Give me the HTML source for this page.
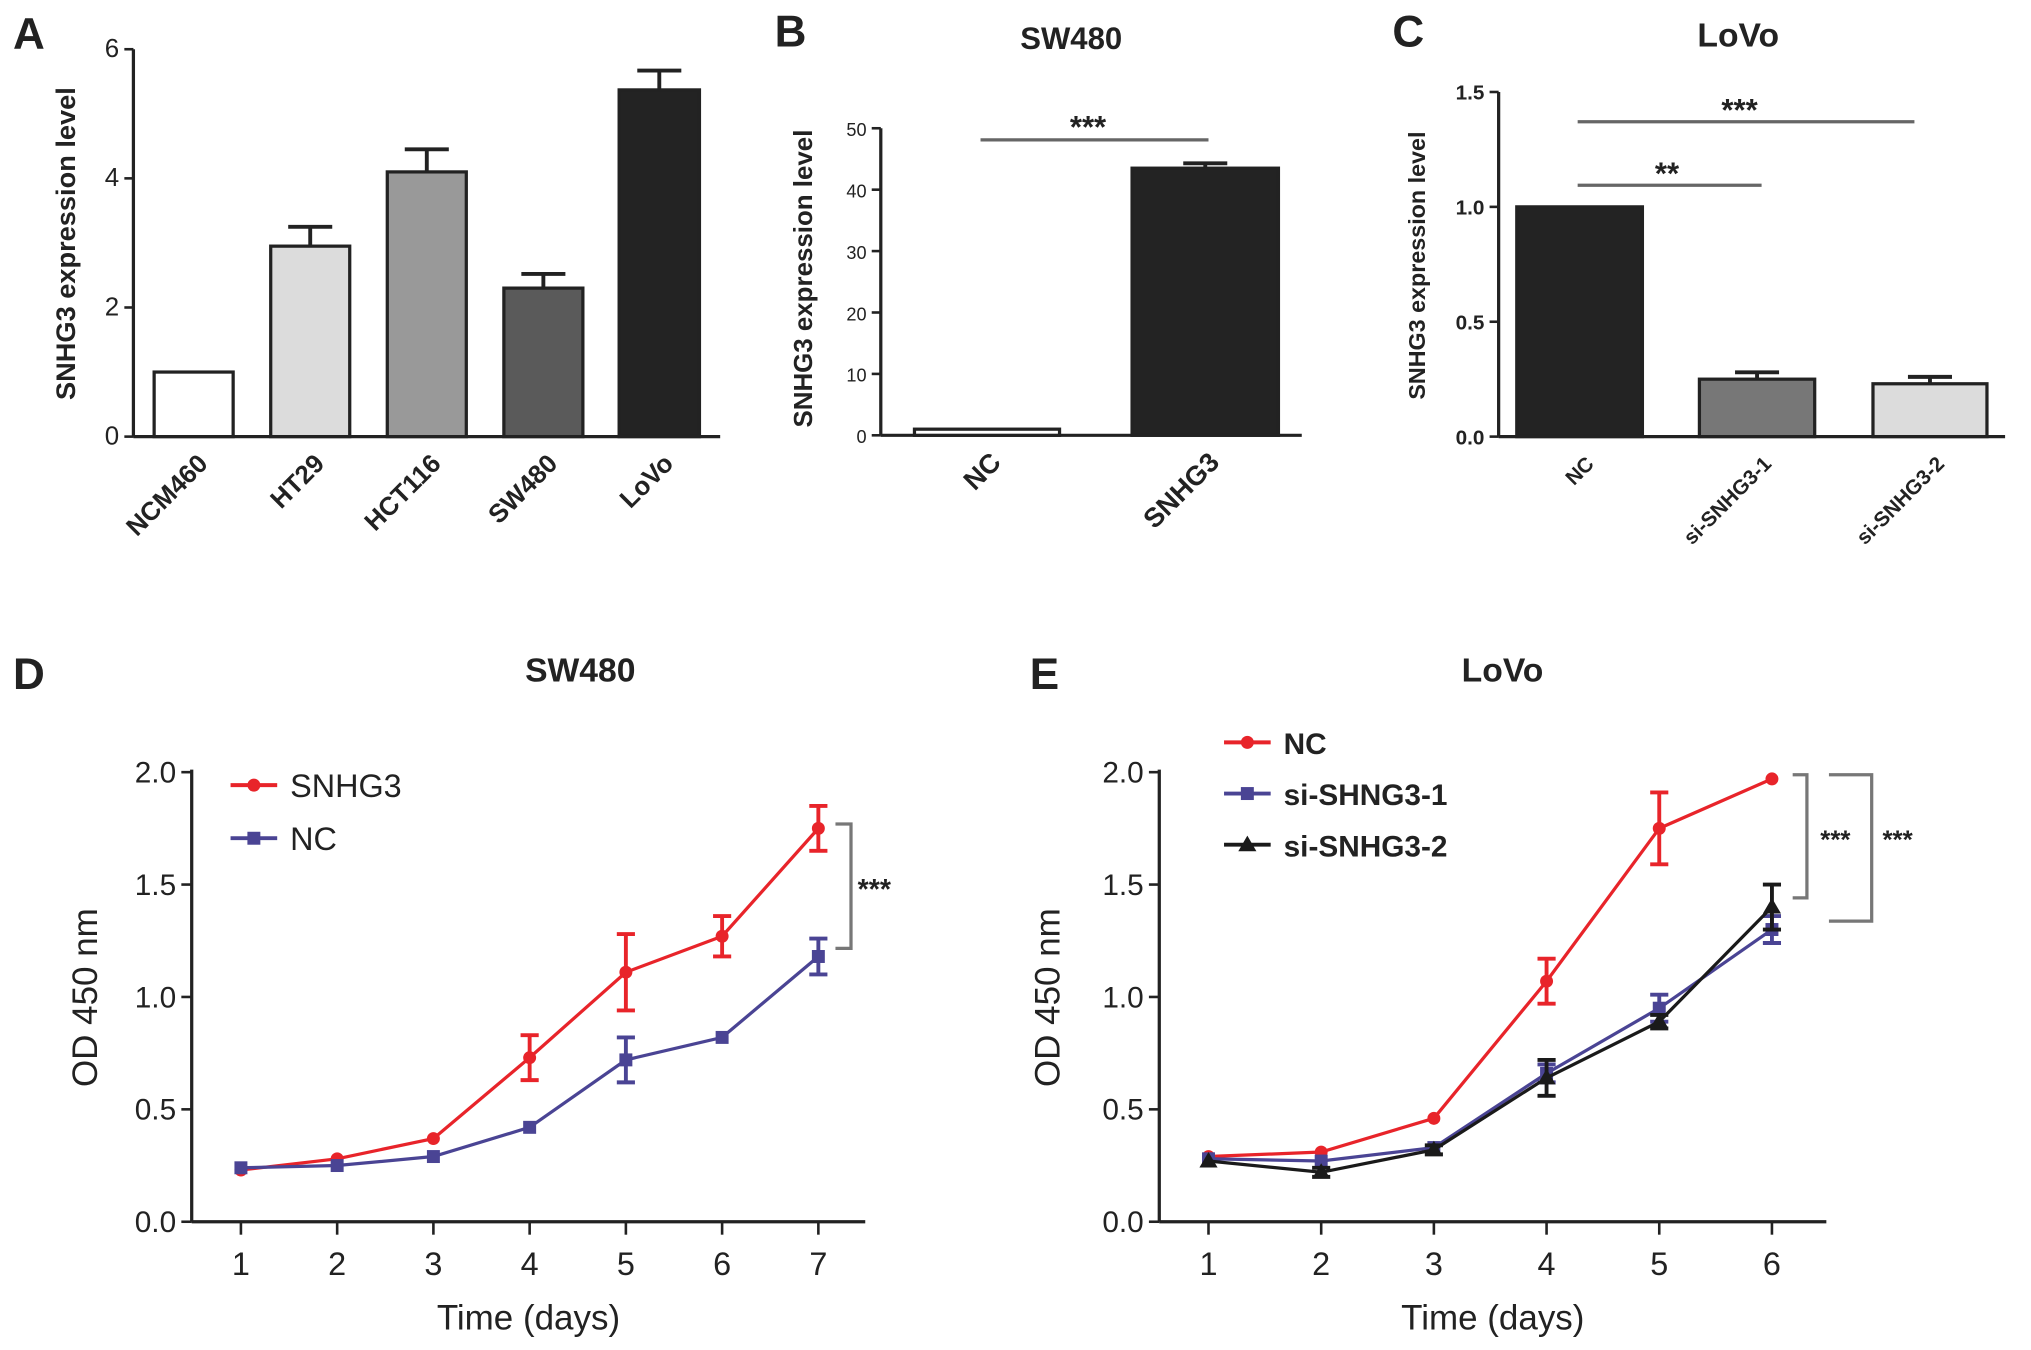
<!DOCTYPE html>
<html><head><meta charset="utf-8">
<style>
html,body{margin:0;padding:0;background:#fff;width:2031px;height:1350px;overflow:hidden}
svg{display:block}
text{font-family:"Liberation Sans",Arial,sans-serif;fill:#222}
</style></head>
<body>
<svg id="fig" width="2031" height="1350" viewBox="0 0 1568 1042" preserveAspectRatio="none" xmlns="http://www.w3.org/2000/svg"></svg>
<script>
// ---- Data ----
const aCats = ["NCM460","HT29","HCT116","SW480","LoVo"];
const aVals = [1.0, 2.95, 4.1, 2.3, 5.37];
const aErrs = [0, 0.3, 0.35, 0.22, 0.3];
const aTicks = [0,2,4,6];
const bCats = ["NC","SNHG3"];
const bVals = [1.0, 43.5];
const bErrs = [0, 0.8];
const bTicks = [0,10,20,30,40,50];
const cCats = ["NC","si-SNHG3-1","si-SNHG3-2"];
const cVals = [1.0, 0.25, 0.23];
const cErrs = [0, 0.03, 0.03];
const cTicks = ["0.0","0.5","1.0","1.5"];
const dDays = [1,2,3,4,5,6,7];
const dSNHG3 = [0.23,0.28,0.37,0.73,1.11,1.27,1.75];
const dSNHG3Err = [0.01,0.01,0.01,0.1,0.17,0.09,0.1];
const dNC = [0.24,0.25,0.29,0.42,0.72,0.82,1.18];
const dNCErr = [0.01,0.01,0.01,0.01,0.1,0.01,0.08];
const eDays = [1,2,3,4,5,6];
const eNC = [0.29,0.31,0.46,1.07,1.75,1.97];
const eNCErr = [0.01,0.01,0.01,0.1,0.16,0.01];
const eSi1 = [0.28,0.27,0.33,0.66,0.95,1.3];
const eSi1Err = [0.01,0.01,0.01,0.04,0.06,0.06];
const eSi2 = [0.27,0.22,0.32,0.64,0.89,1.4];
const eSi2Err = [0.01,0.02,0.02,0.08,0.03,0.1];
const lineTicks = ["0.0","0.5","1.0","1.5","2.0"];

const NS="http://www.w3.org/2000/svg";
const svg=document.getElementById('fig');
function mk(tag,attrs,parent,txt){const e=document.createElementNS(NS,tag);for(const k in attrs)e.setAttribute(k,attrs[k]);if(txt!==undefined)e.textContent=txt;(parent||svg).appendChild(e);return e;}
function ln(x1,y1,x2,y2,st,w,p,name){const e=mk('line',{x1,y1,x2,y2,stroke:st||'#222','stroke-width':w||2},p);

return e;}
function tx(x,y,s,sz,opts,p,name){const a=Object.assign({x,y,'font-size':sz},opts||{});const e=mk('text',a,p,s);

return e;}
function grp(name){const g=mk('g',{});

return g;}

// panel letters
[["A",10,38],["B",598,36],["C",1075,36],["D",10,532],["E",795,532]].forEach(l=>{
 tx(l[1],l[2],l[0],34,{'font-weight':'bold'},svg,'panel-letter-'+l[0].toLowerCase());
});

// ---------- Bar panel helper ----------
function barPanel(o){
 const g=grp(o.name);
 const y=v=>o.y0-(v-o.vmin)/(o.vmax-o.vmin)*(o.y0-o.y1);
 ln(o.ax,o.y1,o.ax,o.y0,'#222',2.5,g,'y-axis-line');
 ln(o.ax,o.y0,o.axEnd,o.y0,'#222',2.5,g,'x-axis-line');
 o.ticks.forEach(t=>{const yy=y(parseFloat(t));ln(o.ax-7,yy,o.ax,yy,'#222',2,g,'y-tick');
  tx(o.ax-11,yy+6,String(t),o.tickSize,{'text-anchor':'end','font-weight':o.bold?'bold':'normal'},g,'y-tick-label');});
 o.cats.forEach((c,i)=>{
  const x0=o.bx[i][0],x1=o.bx[i][1],yt=y(o.vals[i]);
  const r=mk('rect',{x:x0,y:yt,width:x1-x0,height:o.y0-yt,fill:o.colors[i],stroke:'#222','stroke-width':2.5},g);
  
  
  if(o.errs[i]>0){const cx=(x0+x1)/2,ye=y(o.vals[i]+o.errs[i]);
   ln(cx,yt,cx,ye,'#222',3,g,'error-bar');ln(cx-17,ye,cx+17,ye,'#222',3,g,'error-cap');}
  const lx=(x0+x1)/2+o.lblDx,ly=o.y0+o.lblDy;
  tx(lx,ly,c,o.catSize,{'text-anchor':'end','font-weight':'bold',transform:`rotate(-45 ${lx} ${ly})`},g,'x-category-label');
 });
 const tyx=o.titleX,tyy=o.titleY;
 tx(tyx,tyy,'SNHG3 expression level',o.ytSize,{'text-anchor':'middle','font-weight':'bold',transform:`rotate(-90 ${tyx} ${tyy})`},g,'y-axis-title');
 return {g,y};
}

// Panel A
barPanel({name:'panel-a',ax:103,axEnd:556,y0:337,y1:38,vmin:0,vmax:6,ticks:aTicks,cats:aCats,vals:aVals,errs:aErrs,
 bx:[[119,180],[209,270],[299,360],[389,450],[478,540]],colors:['#fff','#dcdcdc','#999','#5a5a5a','#232323'],
 tickSize:20,catSize:20,lblDx:12,lblDy:22,titleX:58,titleY:188,ytSize:21,bold:false});

// Panel B
const pb=barPanel({name:'panel-b',ax:680,axEnd:1005,y0:336,y1:99,vmin:0,vmax:50,ticks:bTicks,cats:bCats,vals:bVals,errs:bErrs,
 bx:[[706,818],[874,987]],colors:['#fff','#232323'],tickSize:14,catSize:21,lblDx:12,lblDy:22,titleX:627,titleY:215,ytSize:20,bold:false});
tx(827,38,'SW480',24,{'text-anchor':'middle','font-weight':'bold'},pb.g,'chart-title-b');
ln(757,108,933,108,'#666',2.5,pb.g,'significance-line');
tx(840,106,'***',24,{'text-anchor':'middle','font-weight':'bold'},pb.g,'significance-stars');

// Panel C
const pc=barPanel({name:'panel-c',ax:1157,axEnd:1548,y0:337,y1:71,vmin:0,vmax:1.5,ticks:cTicks,cats:cCats,vals:cVals,errs:cErrs,
 bx:[[1171,1268],[1312,1401],[1446,1534]],colors:['#232323','#777','#dcdcdc'],tickSize:16,catSize:16,lblDx:12,lblDy:22,titleX:1100,titleY:205,ytSize:18,bold:true});
tx(1342,36,'LoVo',26,{'text-anchor':'middle','font-weight':'bold'},pc.g,'chart-title-c');
ln(1218,94,1478,94,'#666',2.5,pc.g,'significance-line-1');
tx(1343,93,'***',24,{'text-anchor':'middle','font-weight':'bold'},pc.g,'significance-stars-1');
ln(1218,143,1360,143,'#666',2.5,pc.g,'significance-line-2');
tx(1287,142,'**',24,{'text-anchor':'middle','font-weight':'bold'},pc.g,'significance-stars-2');

// ---------- Line panels ----------
function linePanel(o){
 const g=grp(o.name);
 const y=v=>o.y0-v/2*(o.y0-o.y1);
 const x=d=>o.xd1+(d-1)*o.step;
 ln(o.ax,o.y1-2,o.ax,o.y0,'#222',2.5,g,'y-axis-line');
 ln(o.ax,o.y0,o.axEnd,o.y0,'#222',2.5,g,'x-axis-line');
 o.ticks.forEach(t=>{const yy=y(parseFloat(t));ln(o.ax-8,yy,o.ax,yy,'#222',2,g,'y-tick');
  tx(o.ax-12,yy+8,t,23,{'text-anchor':'end'},g,'y-tick-label');});
 o.days.forEach(d=>{ln(x(d),o.y0,x(d),o.y0+10,'#222',2,g,'x-tick');
  tx(x(d),o.y0+41,String(d),25,{'text-anchor':'middle'},g,'x-tick-label');});
 tx((o.ax+o.axEnd)/2,o.y0+83,'Time (days)',27,{'text-anchor':'middle'},g,'x-axis-title');
 tx(o.ytX,o.y0-173,'OD 450 nm',27,{'text-anchor':'middle',transform:`rotate(-90 ${o.ytX} ${o.y0-173})`},g,'y-axis-title');
 tx(o.titleX,526,o.title,26,{'text-anchor':'middle','font-weight':'bold'},g,'chart-title');
 o.series.forEach(s=>{
  const sg=grp('series-'+s.key);g.appendChild(sg);
  const pts=s.vals.map((v,i)=>x(o.days[i])+','+y(v)).join(' ');
  const pl=mk('polyline',{points:pts,fill:'none',stroke:s.color,'stroke-width':2.5},sg);
  
  
  s.vals.forEach((v,i)=>{const cx=x(o.days[i]),cy=y(v);
   if(s.errs[i]>0.015){const a=y(v+s.errs[i]),b=y(v-s.errs[i]);
    ln(cx,a,cx,b,s.color,3,sg,'error-bar');ln(cx-7,a,cx+7,a,s.color,3,sg,'error-cap');ln(cx-7,b,cx+7,b,s.color,3,sg,'error-cap');}
   let m;
   if(s.marker==='circle')m=mk('circle',{cx,cy,r:5,fill:s.color},sg);
   else if(s.marker==='square')m=mk('rect',{x:cx-5,y:cy-5,width:10,height:10,fill:s.color},sg);
   else m=mk('polygon',{points:`${cx},${cy-7} ${cx-7},${cy+5} ${cx+7},${cy+5}`,fill:s.color},sg);
   
   
  });
 });
 o.legend.forEach((l,i)=>{const ly=o.legY+i*o.legGap;const lg=grp('legend-entry-'+l.key);g.appendChild(lg);
  ln(o.legX,ly,o.legX+36,ly,l.color,3,lg,'legend-line');
  const cx=o.legX+18;
  if(l.marker==='circle')mk('circle',{cx,cy:ly,r:5,fill:l.color},lg);
  else if(l.marker==='square')mk('rect',{x:cx-5,y:ly-5,width:10,height:10,fill:l.color},lg);
  else mk('polygon',{points:`${cx},${ly-7} ${cx-7},${ly+5} ${cx+7},${ly+5}`,fill:l.color},lg);
  tx(o.legX+46,ly+9,l.label,o.legSize,{'font-weight':o.legBold?'bold':'normal'},lg,'legend-label');});
 return g;
}

const RED='#e8242a',BLUE='#4a4494',BLK='#1a1a1a';
const gd=linePanel({name:'panel-d',ax:148,axEnd:668,y0:943,y1:596,xd1:186,step:74.3,days:dDays,ticks:lineTicks,
 ytX:75,titleX:448,title:'SW480',
 series:[{key:'snhg3',vals:dSNHG3,errs:dSNHG3Err,color:RED,marker:'circle'},{key:'nc',vals:dNC,errs:dNCErr,color:BLUE,marker:'square'}],
 legend:[{key:'snhg3',label:'SNHG3',color:RED,marker:'circle'},{key:'nc',label:'NC',color:BLUE,marker:'square'}],
 legX:178,legY:606,legGap:41,legSize:25,legBold:false});
mk('polyline',{points:'645,636 657,636 657,732 645,732',fill:'none',stroke:'#777','stroke-width':2.5},gd);
tx(675,694,'***',22,{'text-anchor':'middle','font-weight':'bold'},gd,'significance-stars');

const ge=linePanel({name:'panel-e',ax:895,axEnd:1410,y0:943,y1:596,xd1:933,step:87,days:eDays,ticks:lineTicks,
 ytX:818,titleX:1160,title:'LoVo',
 series:[{key:'nc',vals:eNC,errs:eNCErr,color:RED,marker:'circle'},{key:'si-shng3-1',vals:eSi1,errs:eSi1Err,color:BLUE,marker:'square'},{key:'si-snhg3-2',vals:eSi2,errs:eSi2Err,color:BLK,marker:'triangle'}],
 legend:[{key:'nc',label:'NC',color:RED,marker:'circle'},{key:'si-shng3-1',label:'si-SHNG3-1',color:BLUE,marker:'square'},{key:'si-snhg3-2',label:'si-SNHG3-2',color:BLK,marker:'triangle'}],
 legX:945,legY:573,legGap:39.5,legSize:23,legBold:true});
mk('polyline',{points:'1384,598 1395,598 1395,693 1384,693',fill:'none',stroke:'#777','stroke-width':2.5},ge);
mk('polyline',{points:'1412,598 1445,598 1445,711 1412,711',fill:'none',stroke:'#777','stroke-width':2.5},ge);
tx(1417,655,'***',20,{'text-anchor':'middle','font-weight':'bold'},ge,'significance-stars-1');
tx(1465,655,'***',20,{'text-anchor':'middle','font-weight':'bold'},ge,'significance-stars-2');
</script>
</body></html>
